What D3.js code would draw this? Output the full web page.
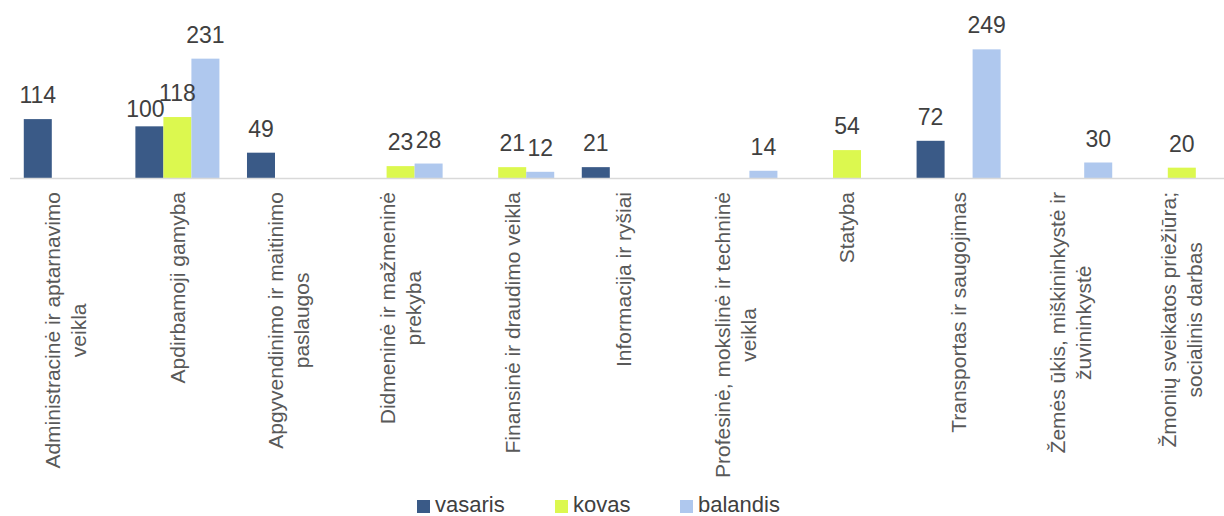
<!DOCTYPE html>
<html>
<head>
<meta charset="utf-8">
<script src="https://cdn.jsdelivr.net/npm/d3@7"></script>
<style>
  body { margin: 0; background: #fff; }
  svg { display: block; font-family: "Liberation Sans", Arial, sans-serif; }
</style>
</head>
<body>
<script>
// categories, each one split into its label lines
var categories = [
  ["Administracinė ir aptarnavimo", "veikla"],
  ["Apdirbamoji gamyba"],
  ["Apgyvendinimo ir maitinimo", "paslaugos"],
  ["Didmeninė ir mažmeninė", "prekyba"],
  ["Finansinė ir draudimo veikla"],
  ["Informacija ir ryšiai"],
  ["Profesinė, mokslinė ir techninė", "veikla"],
  ["Statyba"],
  ["Transportas ir saugojimas"],
  ["Žemės ūkis, miškininkystė ir", "žuvininkystė"],
  ["Žmonių sveikatos priežiūra;", "socialinis darbas"]
];
var seriesNames = ["vasaris", "kovas", "balandis"];
var seriesColors = ["#3a5a87", "#dcf84f", "#afc8ee"];
// null = no bar
var vasaris  = [114, 100, 49, null, null, 21, null, null, 72, null, null];
var kovas    = [null, 118, null, 23, 21, null, null, 54, null, null, 20];
var balandis = [null, 231, null, 28, 12, null, 14, null, 249, 30, null];

var width = 1224, height = 516;
var baseY = 178;

var svg = d3.select("body").append("svg")
    .attr("width", width)
    .attr("height", height);

var keys = categories.map(function(d, i) { return "c" + i; });
var x = d3.scaleBand()
    .domain(keys)
    .range([10, 10 + 11 * 111.6])
    .paddingInner(0.247)
    .paddingOuter(0.1235);

var xs = d3.scaleBand()
    .domain(seriesNames)
    .range([0, x.bandwidth()]);

var y = d3.scaleLinear()
    .domain([0, 300])
    .range([baseY, 23]);

var allSeries = [vasaris, kovas, balandis];
var bars = [];
allSeries.forEach(function(vals, s) {
  vals.forEach(function(v, i) {
    if (v != null) bars.push({cat: keys[i], s: s, value: v});
  });
});

// bars
svg.append("g").selectAll("rect")
  .data(bars)
  .enter().append("rect")
    .attr("x", function(d) { return x(d.cat) + xs(seriesNames[d.s]); })
    .attr("width", xs.bandwidth())
    .attr("y", function(d) { return y(d.value); })
    .attr("height", function(d) { return baseY - y(d.value); })
    .style("fill", function(d) { return seriesColors[d.s]; });

// axis line
svg.append("line")
    .attr("x1", 10).attr("x2", width)
    .attr("y1", baseY + 0.5).attr("y2", baseY + 0.5)
    .style("stroke", "#d9d9d9")
    .style("stroke-width", 1.5);

// data labels
var labels = svg.append("g").selectAll("text")
  .data(bars)
  .enter().append("text")
    .attr("x", function(d) { return x(d.cat) + xs(seriesNames[d.s]) + xs.bandwidth() / 2; })
    .attr("y", function(d) { return y(d.value) - 16; })
    .attr("text-anchor", "middle")
    .style("font-size", "23px")
    .style("fill", "#404040")
    .text(function(d) { return d.value; });

// push a label down-left when it collides with its right neighbour (like Excel does)
var nodes = labels.nodes();
nodes.forEach(function(a, i) {
  var ba = a.getBBox();
  nodes.forEach(function(b, j) {
    if (i === j) return;
    var da = d3.select(a).datum(), db = d3.select(b).datum();
    if (da.cat !== db.cat || db.s <= da.s) return;
    var bb = b.getBBox();
    var overlapX = ba.x + ba.width > bb.x && bb.x + bb.width > ba.x;
    var overlapY = ba.y + ba.height > bb.y && bb.y + bb.height > ba.y;
    if (overlapX && overlapY) {
      d3.select(a)
        .attr("x", +d3.select(a).attr("x") - 4)
        .attr("y", +d3.select(a).attr("y") + 7);
    }
  });
});

// category labels, rotated, lines centred on each other
var fs = 21, lh = 26;
var cat = svg.append("g").selectAll("g")
  .data(categories)
  .enter().append("g")
    .attr("transform", function(d, i) {
      return "translate(" + (x(keys[i]) + x.bandwidth() / 2) + "," + 192 + ") rotate(-90)";
    });

cat.each(function(lines) {
  var g = d3.select(this);
  var n = lines.length;
  var texts = g.selectAll("text")
    .data(lines)
    .enter().append("text")
      .attr("text-anchor", "middle")
      .attr("y", function(d, j) { return (j - (n - 1) / 2) * lh + 0.35 * fs; })
      .style("font-size", fs + "px")
      .style("fill", "#595959")
      .text(function(d) { return d; });
  var maxLen = 0;
  texts.each(function() { maxLen = Math.max(maxLen, this.getComputedTextLength()); });
  texts.attr("x", -maxLen / 2);
});

// legend
var legendX = [417, 555, 680];
var legend = svg.append("g").selectAll("g")
  .data(seriesNames)
  .enter().append("g")
    .attr("transform", function(d, i) { return "translate(" + legendX[i] + ",500)"; });

legend.append("rect")
    .attr("width", 13).attr("height", 13)
    .style("fill", function(d, i) { return seriesColors[i]; });

legend.append("text")
    .attr("x", 18)
    .attr("y", 12)
    .style("font-size", "22px")
    .style("fill", "#404040")
    .text(function(d) { return d; });
</script>
</body>
</html>
